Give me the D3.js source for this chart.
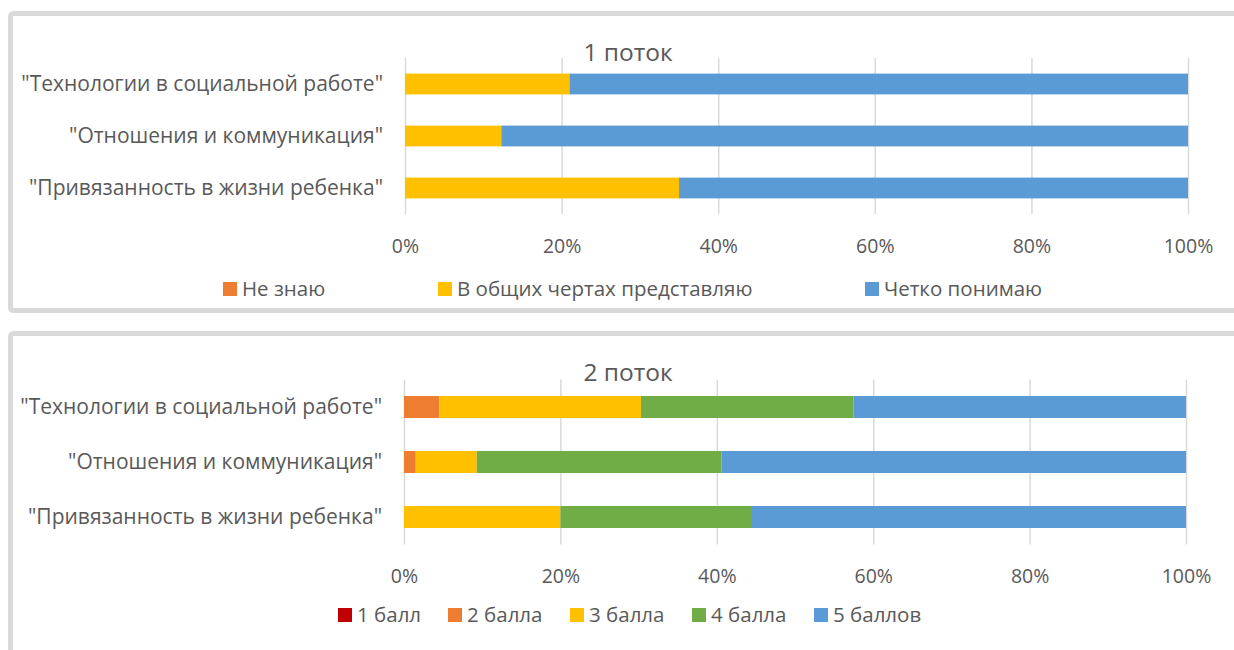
<!DOCTYPE html>
<html lang="ru">
<head>
<meta charset="UTF-8">
<title>1 поток / 2 поток</title>
<style>
  body { margin: 0; background: #fff; font-family: "Open Sans", "DejaVu Sans", sans-serif; }
  .panel { fill: #fff; stroke: #d9d9d9; stroke-width: 5px; }
  .cat, .tick text, .legend text, .title { fill: #595959; }
  .grid line { stroke: #d9d9d9; stroke-width: 1.5px; }
  .grid path { display: none; }
</style>
<script src="https://d3js.org/d3.v7.min.js"></script>
</head>
<body>
<script>
  // ---- data ----
  var categories = ['"Технологии в социальной работе"', '"Отношения и коммуникация"', '"Привязанность в жизни ребенка"'];
  var ticks = [0, 20, 40, 60, 80, 100];

  var flow1Names = ['Не знаю', 'В общих чертах представляю', 'Четко понимаю'];
  var flow1NotKnow = [0, 0, 0];
  var flow1General = [21, 12.3, 35];
  var flow1Clear = [79, 87.7, 65];

  var flow2Names = ['1 балл', '2 балла', '3 балла', '4 балла', '5 баллов'];
  var ball1 = [0, 0, 0];
  var ball2 = [4.5, 1.5, 0];
  var ball3 = [25.8, 7.8, 20];
  var ball4 = [27.2, 31.3, 24.5];
  var ball5 = [42.5, 59.4, 55.5];

  var width = 1234, height = 650;

  var svg = d3.select('body').append('svg')
    .attr('width', width)
    .attr('height', height);

  // panel frames
  svg.append('rect').attr('class', 'panel')
    .attr('x', 10.5).attr('y', 13.5).attr('width', 1240).attr('height', 297).attr('rx', 3);
  svg.append('rect').attr('class', 'panel')
    .attr('x', 10.5).attr('y', 333.5).attr('width', 1240).attr('height', 340).attr('rx', 3);

  function drawPanel(opt) {
    var rows = categories.map(function(c, i) {
      var r = { cat: c };
      opt.names.forEach(function(n, j) { r[n] = opt.series[j][i]; });
      return r;
    });

    var stack = d3.stack().keys(opt.names)(rows);

    var x = d3.scaleLinear().domain([0, 100]).range([opt.x0, opt.x1]);
    var y = d3.scaleBand().domain(categories).range([opt.y0, opt.y1])
      .paddingInner(0.6).paddingOuter(0.3);

    var g = svg.append('g');

    // gridlines + tick labels
    var axis = d3.axisBottom(x)
      .tickValues(ticks)
      .tickSizeInner(-(opt.y1 - opt.y0))
      .tickSizeOuter(0)
      .tickPadding(opt.tickPad)
      .tickFormat(function(d) { return d + '%'; });

    g.append('g')
      .attr('class', 'grid')
      .attr('transform', 'translate(0,' + opt.y1 + ')')
      .call(axis)
      .selectAll('text')
      .style('font-size', '19.5px')
      .style('font-family', '"Open Sans", sans-serif');

    // bars
    g.selectAll('.series')
      .data(stack)
      .enter().append('g')
      .attr('fill', function(d, i) { return opt.colors[i]; })
      .selectAll('rect')
      .data(function(d) { return d; })
      .enter().append('rect')
      .attr('x', function(d) { return x(d[0]); })
      .attr('y', function(d) { return y(d.data.cat); })
      .attr('width', function(d) { return x(d[1]) - x(d[0]); })
      .attr('height', y.bandwidth());

    // category labels
    g.selectAll('.cat')
      .data(categories)
      .enter().append('text')
      .attr('class', 'cat')
      .attr('x', opt.x0 - 22)
      .attr('y', function(d) { return y(d) + y.bandwidth() / 2; })
      .attr('dy', '0.35em')
      .attr('text-anchor', 'end')
      .style('font-size', '21px')
      .text(function(d) { return d; });

    // title
    g.append('text')
      .attr('class', 'title')
      .attr('x', opt.titleX)
      .attr('y', opt.titleY)
      .attr('text-anchor', 'middle')
      .style('font-size', '24.5px')
      .text(opt.title);

    // legend
    var leg = g.selectAll('.legend')
      .data(opt.names)
      .enter().append('g')
      .attr('class', 'legend')
      .attr('transform', function(d, i) { return 'translate(' + opt.legendX[i] + ',' + opt.legendY + ')'; });

    leg.append('rect')
      .attr('x', 0).attr('y', -7)
      .attr('width', 14).attr('height', 14)
      .attr('fill', function(d, i) { return opt.colors[i]; });

    leg.append('text')
      .attr('x', 19)
      .attr('dy', '0.35em')
      .style('font-size', '20.5px')
      .text(function(d) { return d; });
  }

  drawPanel({
    title: '1 поток',
    names: flow1Names,
    series: [flow1NotKnow, flow1General, flow1Clear],
    colors: ['#ED7D31', '#FFC000', '#5B9BD5'],
    x0: 405, x1: 1188, y0: 58, y1: 214,
    tickPad: 25,
    titleX: 628, titleY: 61,
    legendX: [223, 438, 865], legendY: 289
  });

  drawPanel({
    title: '2 поток',
    names: flow2Names,
    series: [ball1, ball2, ball3, ball4, ball5],
    colors: ['#C00000', '#ED7D31', '#FFC000', '#70AD47', '#5B9BD5'],
    x0: 404, x1: 1186, y0: 379.5, y1: 544.5,
    tickPad: 25,
    titleX: 628, titleY: 381,
    legendX: [338, 448, 570, 692, 814], legendY: 615
  });
</script>
</body>
</html>
